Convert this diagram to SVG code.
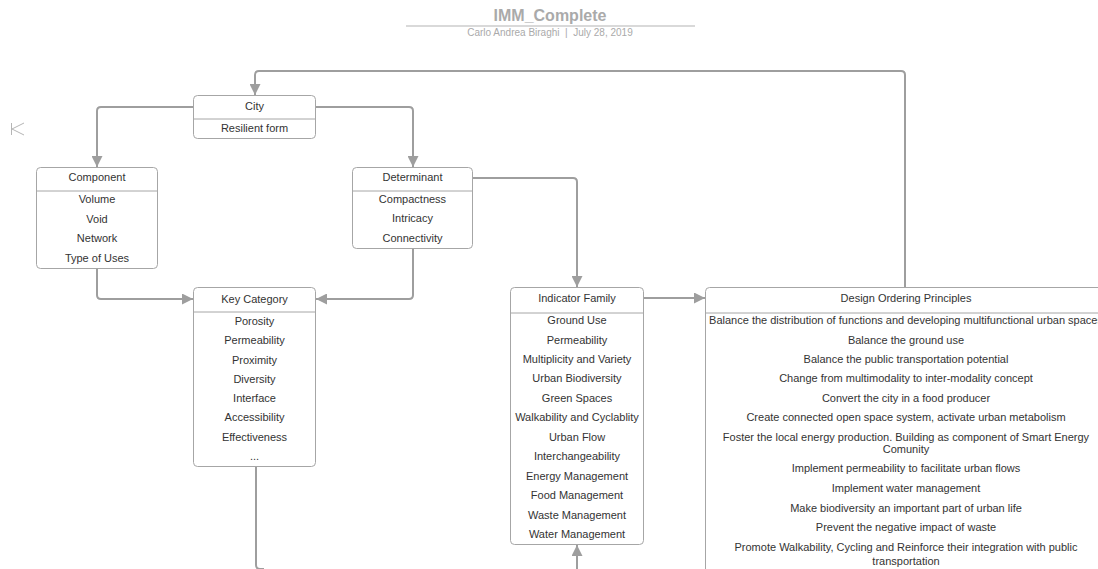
<svg xmlns="http://www.w3.org/2000/svg" width="1098" height="569" viewBox="0 0 1098 569">
  <style>
    .box { fill: #ffffff; stroke: #a6a6a6; stroke-width: 1; }
    .div { stroke: #a6a6a6; stroke-width: 1; }
    .t { font-family: "Liberation Sans", Arial, sans-serif; font-size: 11px; fill: #333333; text-anchor: middle; }
    .conn { fill: none; stroke: #9e9e9e; stroke-width: 2; }
  </style>
  <defs>
    <marker id="arrow" viewBox="0 0 10 10" refX="10" refY="5" markerWidth="5.5" markerHeight="5.5" orient="auto" markerUnits="strokeWidth">
      <path d="M0,0 L10,5 L0,10 Z" fill="#9e9e9e"/>
    </marker>
  </defs>
  <rect width="1098" height="569" fill="#ffffff"/>

  <!-- header -->
  <g id="header">
    <text x="550" y="21" style="font-family: 'Liberation Sans', Arial, sans-serif; font-size: 16px; font-weight: bold; fill: #aaaaaa; text-anchor: middle;">IMM_Complete</text>
    <line x1="406" y1="26" x2="695" y2="26" stroke="#cccccc" stroke-width="1.5"/>
    <text x="550" y="36" style="font-family: 'Liberation Sans', Arial, sans-serif; font-size: 10px; fill: #aaaaaa; text-anchor: middle;">Carlo Andrea Biraghi&#160; |&#160; July 28, 2019</text>
  </g>

  <!-- collapse handle -->
  <g id="handle" fill="none" stroke="#b5b5b5" stroke-width="1">
    <line x1="11.5" y1="123" x2="11.5" y2="135"/>
    <polyline points="24,123 12,129 24,135"/>
  </g>

  <!-- connectors -->
  <g id="connectors">
    <path class="conn" d="M905,287 V75 Q905,71 901,71 H259 Q255,71 255,75 V95" marker-end="url(#arrow)"/>
    <path class="conn" d="M193,107 H101 Q97,107 97,111 V167" marker-end="url(#arrow)"/>
    <path class="conn" d="M316,107 H409 Q413,107 413,111 V167" marker-end="url(#arrow)"/>
    <path class="conn" d="M97,269 V295 Q97,299 101,299 H193" marker-end="url(#arrow)"/>
    <path class="conn" d="M413,249 V295 Q413,299 409,299 H316" marker-end="url(#arrow)"/>
    <path class="conn" d="M473,178 H573 Q577,178 577,182 V287" marker-end="url(#arrow)"/>
    <path class="conn" d="M644,298 H705" marker-end="url(#arrow)"/>
    <path class="conn" d="M577,572 V545" marker-end="url(#arrow)"/>
    <path class="conn" d="M256,467 V565 Q256,569 260,569 H264"/>
  </g>

  <!-- City -->
  <g id="city">
    <rect class="box" x="193.5" y="95.5" width="122" height="43" rx="4"/>
    <line class="div" x1="193.5" y1="119" x2="315.5" y2="119"/>
    <text class="t" x="254.5" y="110">City</text>
    <text class="t" x="254.5" y="132">Resilient form</text>
  </g>

  <!-- Component -->
  <g id="component">
    <rect class="box" x="36.5" y="167.5" width="121" height="101" rx="4"/>
    <line class="div" x1="36.5" y1="191" x2="157.5" y2="191"/>
    <text class="t" x="97" y="181">Component</text>
    <text class="t" x="97" y="203">Volume</text>
    <text class="t" x="97" y="223">Void</text>
    <text class="t" x="97" y="242">Network</text>
    <text class="t" x="97" y="262">Type of Uses</text>
  </g>

  <!-- Determinant -->
  <g id="determinant">
    <rect class="box" x="352.5" y="167.5" width="120" height="81" rx="4"/>
    <line class="div" x1="352.5" y1="191" x2="472.5" y2="191"/>
    <text class="t" x="412.5" y="181">Determinant</text>
    <text class="t" x="412.5" y="203">Compactness</text>
    <text class="t" x="412.5" y="222">Intricacy</text>
    <text class="t" x="412.5" y="242">Connectivity</text>
  </g>

  <!-- Key Category -->
  <g id="key-category">
    <rect class="box" x="193.5" y="287.5" width="122" height="179" rx="4"/>
    <line class="div" x1="193.5" y1="312" x2="315.5" y2="312"/>
    <text class="t" x="254.5" y="303">Key Category</text>
    <text class="t" x="254.5" y="325">Porosity</text>
    <text class="t" x="254.5" y="344">Permeability</text>
    <text class="t" x="254.5" y="364">Proximity</text>
    <text class="t" x="254.5" y="383">Diversity</text>
    <text class="t" x="254.5" y="402">Interface</text>
    <text class="t" x="254.5" y="421">Accessibility</text>
    <text class="t" x="254.5" y="441">Effectiveness</text>
    <text class="t" x="254.5" y="460">...</text>
  </g>

  <!-- Indicator Family -->
  <g id="indicator-family">
    <rect class="box" x="510.5" y="287.5" width="133" height="257" rx="4"/>
    <line class="div" x1="510.5" y1="313" x2="643.5" y2="313"/>
    <text class="t" x="577" y="302">Indicator Family</text>
    <text class="t" x="577" y="324">Ground Use</text>
    <text class="t" x="577" y="344">Permeability</text>
    <text class="t" x="577" y="363">Multiplicity and Variety</text>
    <text class="t" x="577" y="382">Urban Biodiversity</text>
    <text class="t" x="577" y="402">Green Spaces</text>
    <text class="t" x="577" y="421">Walkability and Cyclablity</text>
    <text class="t" x="577" y="441">Urban Flow</text>
    <text class="t" x="577" y="460">Interchangeability</text>
    <text class="t" x="577" y="480">Energy Management</text>
    <text class="t" x="577" y="499">Food Management</text>
    <text class="t" x="577" y="519">Waste Management</text>
    <text class="t" x="577" y="538">Water Management</text>
  </g>

  <!-- Design Ordering Principles -->
  <g id="design-ordering-principles">
    <rect class="box" x="705.5" y="287.5" width="402" height="290" rx="4"/>
    <line class="div" x1="705.5" y1="313" x2="1107.5" y2="313"/>
    <text class="t" x="906" y="302">Design Ordering Principles</text>
    <text class="t" x="906" y="324">Balance the distribution of functions and developing multifunctional urban spaces</text>
    <text class="t" x="906" y="344">Balance the ground use</text>
    <text class="t" x="906" y="363">Balance the public transportation potential</text>
    <text class="t" x="906" y="382">Change from multimodality to inter-modality concept</text>
    <text class="t" x="906" y="402">Convert the city in a food producer</text>
    <text class="t" x="906" y="421">Create connected open space system, activate urban metabolism</text>
    <text class="t" x="906" y="441">Foster the local energy production. Building as component of Smart Energy</text>
    <text class="t" x="906" y="453">Comunity</text>
    <text class="t" x="906" y="472">Implement permeability to facilitate urban flows</text>
    <text class="t" x="906" y="492">Implement water management</text>
    <text class="t" x="906" y="512">Make biodiversity an important part of urban life</text>
    <text class="t" x="906" y="531">Prevent the negative impact of waste</text>
    <text class="t" x="906" y="551">Promote Walkability, Cycling and Reinforce their integration with public</text>
    <text class="t" x="906" y="565">transportation</text>
  </g>
</svg>
